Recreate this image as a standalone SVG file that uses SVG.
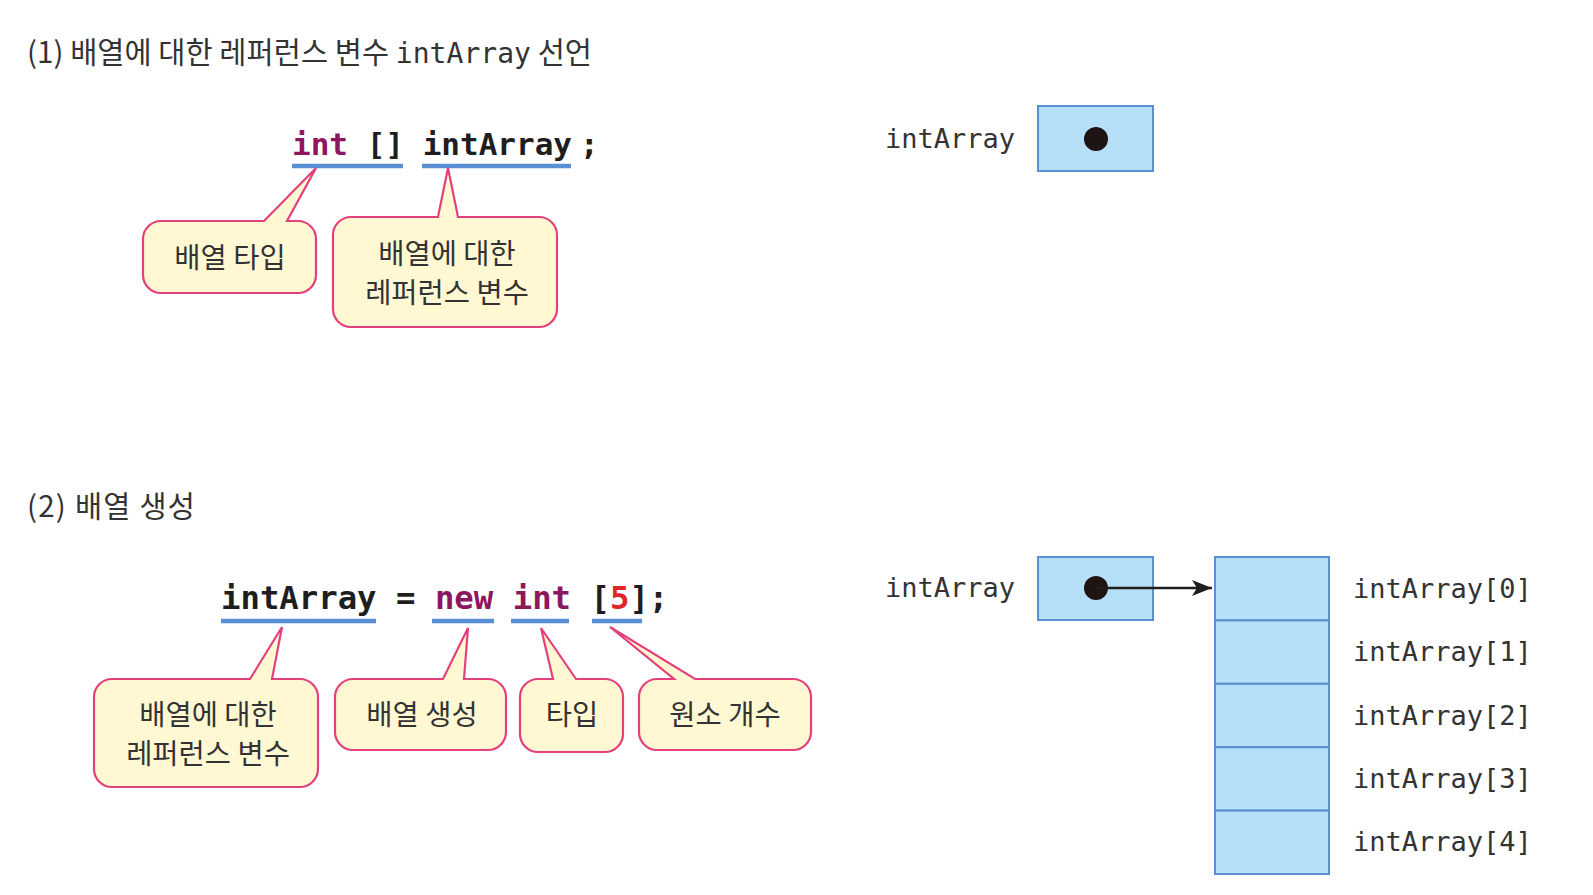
<svg xmlns="http://www.w3.org/2000/svg" width="1593" height="895" viewBox="0 0 1593 895">
<defs>
<style>
.title{font-family:"Noto Sans CJK KR","Noto Sans",sans-serif;font-size:29.5px;fill:#333}
.tmono{font-family:"DejaVu Sans Mono","Liberation Mono",monospace;font-size:28px}
.code{font-family:"DejaVu Sans Mono","Liberation Mono",monospace;font-size:31px;font-weight:bold;fill:#1e1e1e}
.code2{font-size:32.3px}
.kw{fill:#8e1560}
.num{fill:#e0262a}
.ul{stroke:#5b8fd4;stroke-width:4.5;fill:none}
.bub{fill:#fff8d2;stroke:#e4407e;stroke-width:2.2}
.btxt{font-family:"Noto Sans CJK KR","Noto Sans",sans-serif;font-size:28.5px;fill:#333;text-anchor:middle}
.box{fill:#b5e0f7;stroke:#5b8fd4;stroke-width:2}
.mono{font-family:"DejaVu Sans Mono","Liberation Mono",monospace;font-size:27px;fill:#333}
.dot{fill:#1e1414}
.arr{stroke:#1e1e1e;stroke-width:2.5;fill:none}
</style>
<marker id="ah" markerWidth="22" markerHeight="16" refX="20" refY="8" orient="auto" markerUnits="userSpaceOnUse">
<path d="M0,0 L20,8 L0,16 L5,8 Z" fill="#1e1e1e"/>
</marker>
</defs>
<rect width="1593" height="895" fill="#fff"/>

<g id="title1"><text class="title" x="27" y="63" textLength="565" lengthAdjust="spacing">(1) 배열에 대한 레퍼런스 변수 <tspan class="tmono">intArray</tspan> 선언</text></g>
<g id="code1">
<text class="code" x="292" y="155"><tspan class="kw">int</tspan> [] intArray<tspan dx="8">;</tspan></text>
<line class="ul" x1="292" y1="166" x2="403" y2="166"/>
<line class="ul" x1="422" y1="166" x2="571" y2="166"/>
</g>
<g id="bubble-type1">
<path class="bub" d="M161,221 L264,221 L316,168 L287,221 L298,221 A18,18 0 0 1 316,239 L316,275 A18,18 0 0 1 298,293 L161,293 A18,18 0 0 1 143,275 L143,239 A18,18 0 0 1 161,221 Z"/>
<text class="btxt" x="230" y="268">배열 타입</text>
</g>
<g id="bubble-ref1">
<path class="bub" d="M351,217 L438,217 L448,168 L458,217 L539,217 A18,18 0 0 1 557,235 L557,309 A18,18 0 0 1 539,327 L351,327 A18,18 0 0 1 333,309 L333,235 A18,18 0 0 1 351,217 Z"/>
<text class="btxt" x="447" y="264">배열에 대한</text>
<text class="btxt" x="447" y="303">레퍼런스 변수</text>
</g>
<g id="ref1">
<text class="mono" x="885" y="148">intArray</text>
<rect class="box" x="1038" y="106" width="115" height="65"/>
<circle class="dot" cx="1096" cy="139" r="12"/>
</g>

<g id="title2"><text class="title" x="27" y="517" textLength="168" lengthAdjust="spacing">(2) 배열 생성</text></g>
<g id="code2">
<text class="code code2" x="221" y="609">intArray = <tspan class="kw">new</tspan> <tspan class="kw">int</tspan> [<tspan class="num">5</tspan>];</text>
<line class="ul" x1="221" y1="621" x2="376" y2="621"/>
<line class="ul" x1="432" y1="621" x2="494" y2="621"/>
<line class="ul" x1="511" y1="621" x2="569" y2="621"/>
<line class="ul" x1="592" y1="621" x2="642" y2="621"/>
</g>
<g id="bubble-ref2">
<path class="bub" d="M112,679 L250,679 L282,627 L272,679 L300,679 A18,18 0 0 1 318,697 L318,769 A18,18 0 0 1 300,787 L112,787 A18,18 0 0 1 94,769 L94,697 A18,18 0 0 1 112,679 Z"/>
<text class="btxt" x="208" y="725">배열에 대한</text>
<text class="btxt" x="208" y="764">레퍼런스 변수</text>
</g>
<g id="bubble-new">
<path class="bub" d="M353,679 L443,679 L468,628 L464,679 L488,679 A18,18 0 0 1 506,697 L506,732 A18,18 0 0 1 488,750 L353,750 A18,18 0 0 1 335,732 L335,697 A18,18 0 0 1 353,679 Z"/>
<text class="btxt" x="422" y="725">배열 생성</text>
</g>
<g id="bubble-type2">
<path class="bub" d="M538,679 L553,679 L541,628 L576,679 L605,679 A18,18 0 0 1 623,697 L623,734 A18,18 0 0 1 605,752 L538,752 A18,18 0 0 1 520,734 L520,697 A18,18 0 0 1 538,679 Z"/>
<text class="btxt" x="572" y="725">타입</text>
</g>
<g id="bubble-count">
<path class="bub" d="M657,679 L674,679 L610,627 L695,679 L793,679 A18,18 0 0 1 811,697 L811,732 A18,18 0 0 1 793,750 L657,750 A18,18 0 0 1 639,732 L639,697 A18,18 0 0 1 657,679 Z"/>
<text class="btxt" x="725" y="725">원소 개수</text>
</g>
<g id="ref2">
<text class="mono" x="885" y="597">intArray</text>
<rect class="box" x="1038" y="557" width="115" height="63"/>
<circle class="dot" cx="1096" cy="588" r="12"/>
</g>
<g id="array">
<rect class="box" x="1215" y="557" width="114" height="63.4"/>
<rect class="box" x="1215" y="620.4" width="114" height="63.4"/>
<rect class="box" x="1215" y="683.8" width="114" height="63.4"/>
<rect class="box" x="1215" y="747.2" width="114" height="63.4"/>
<rect class="box" x="1215" y="810.6" width="114" height="63.4"/>
<text class="mono" x="1353" y="598">intArray[0]</text>
<text class="mono" x="1353" y="661">intArray[1]</text>
<text class="mono" x="1353" y="725">intArray[2]</text>
<text class="mono" x="1353" y="788">intArray[3]</text>
<text class="mono" x="1353" y="851">intArray[4]</text>
</g>
<g id="connectors">
<line class="arr" x1="1096" y1="588" x2="1212" y2="588" marker-end="url(#ah)"/>
</g>
</svg>
